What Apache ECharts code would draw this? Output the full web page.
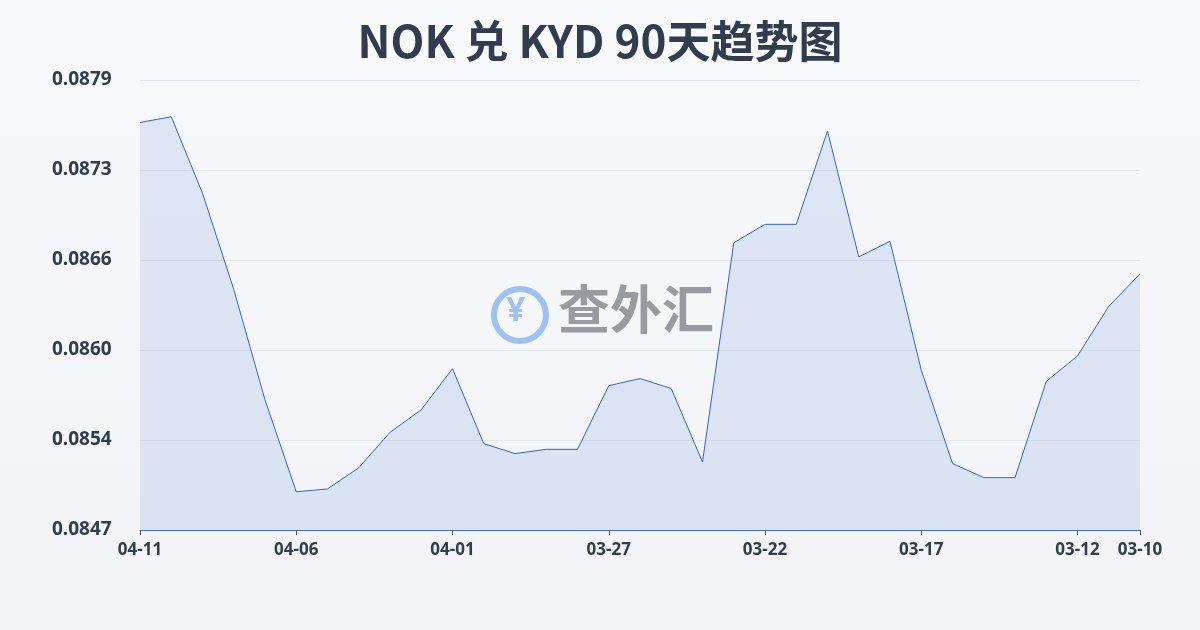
<!DOCTYPE html>
<html>
<head>
<meta charset="utf-8">
<script src="https://cdn.jsdelivr.net/npm/echarts@6/dist/echarts.min.js"></script>
<style>html,body{margin:0;padding:0;}#main{width:1200px;height:630px;}</style>
</head>
<body>
<div id="main"></div>
<script>
var dates = ['04-11','04-10','04-09','04-08','04-07','04-06','04-05','04-04','04-03','04-02','04-01',
  '03-31','03-30','03-29','03-28','03-27','03-26','03-25','03-24','03-23','03-22','03-21','03-20',
  '03-19','03-18','03-17','03-16','03-15','03-14','03-13','03-12','03-11','03-10'];
var rates = [0.08760,0.08764,0.08710,0.08642,0.08564,0.08499,0.08501,0.08516,0.08541,0.08557,0.08586,
  0.08533,0.08526,0.08529,0.08529,0.08574,0.08579,0.08572,0.08520,0.08675,0.08688,0.08688,0.08754,
  0.08665,0.08676,0.08585,0.08519,0.08509,0.08509,0.08577,0.08595,0.08630,0.08653];

var chart = echarts.init(document.getElementById('main'));
chart.setOption({
  backgroundColor: new echarts.graphic.LinearGradient(0, 0, 0, 1, [
    {offset: 0, color: '#f8f9fb'}, {offset: 1, color: '#f1f3f6'}]),
  title: {
    text: 'NOK 兑 KYD 90天趋势图', left: 'center', top: 14,
    textStyle: {fontSize: 44, fontWeight: 'bold', color: '#333c4e', fontFamily: 'Noto Sans CJK SC'}
  },
  graphic: [
    {type: 'circle', shape: {cx: 520, cy: 315, r: 26}, style: {fill: 'none', stroke: '#9fc1ef', lineWidth: 6}},
    {type: 'text', left: 506, top: 294, style: {text: '¥', fontSize: 34, fontWeight: 'bold', fill: '#9fc1ef', fontFamily: 'Noto Sans'}},
    {type: 'text', left: 558, top: 283, style: {text: '查外汇', fontSize: 52, fontWeight: 'bold', fill: 'rgba(120,124,130,0.75)', fontFamily: 'Noto Sans CJK SC'}}
  ],
  grid: {left: 140, right: 60, top: 80, bottom: 100},
  xAxis: {
    type: 'category', boundaryGap: false, data: dates,
    axisLine: {lineStyle: {color: '#3f6fce'}},
    axisTick: {show: true, interval: function (i) { return i % 5 === 0 || i === dates.length - 1; }, lineStyle: {color: '#555'}},
    axisLabel: {
      interval: function (i) { return i % 5 === 0 || i === dates.length - 1; },
      color: '#333c4e', fontSize: 17, fontWeight: 'bold', margin: 12, fontFamily: 'Noto Sans'
    }
  },
  yAxis: {
    type: 'value', min: 0.08472, max: 0.0879, interval: 0.000636,
    axisLine: {show: false}, axisTick: {show: false},
    splitLine: {lineStyle: {color: '#e3e6ea'}},
    axisLabel: {
      color: '#333c4e', fontSize: 19, fontWeight: 'bold', margin: 88, align: 'left', fontFamily: 'Noto Sans',
      formatter: function (v) { return v.toFixed(4); }
    }
  },
  series: [{
    type: 'line', data: rates, symbol: 'none',
    lineStyle: {color: '#3565c8', width: 1},
    areaStyle: {color: 'rgba(110,150,225,0.25)'}
  }]
});
</script>
</body>
</html>
